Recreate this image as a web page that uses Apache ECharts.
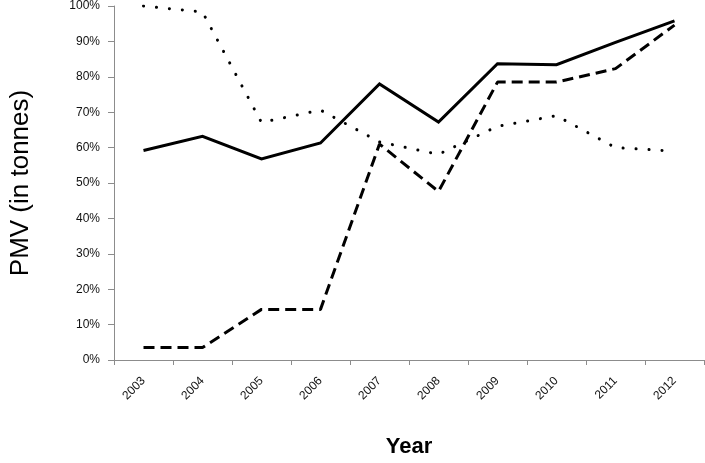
<!DOCTYPE html>
<html>
<head>
<meta charset="utf-8">
<script src="https://cdn.jsdelivr.net/npm/echarts@6/dist/echarts.min.js"></script>
<style>
html,body{margin:0;padding:0;background:#fff;}
#chart{width:705px;height:463px;}
</style>
</head>
<body>
<div id="chart"></div>
<script>
var years = ['2003','2004','2005','2006','2007','2008','2009','2010','2011','2012'];
var solidValues  = [59.2, 63.2, 56.8, 61.3, 78.0, 67.2, 83.7, 83.4, 89.7, 95.8];
var dashedValues = [3.5, 3.5, 14.3, 14.3, 61.0, 47.6, 78.5, 78.5, 82.3, 94.6];
var dottedValues = [100, 98.3, 67.1, 70.6, 61.6, 58.1, 66.0, 69.0, 60.0, 59.0];
var yTicks = [0, 10, 20, 30, 40, 50, 60, 70, 80, 90, 100];

var font = 'Liberation Sans, Arial, sans-serif';
var chart = echarts.init(document.getElementById('chart'), null, {renderer: 'canvas'});
chart.setOption({
  animation: false,
  backgroundColor: '#ffffff',
  grid: {left: 106, right: 1, top: 5.5, bottom: 97, containLabel: false},
  xAxis: {
    type: 'category',
    data: years,
    boundaryGap: true,
    name: 'Year',
    nameLocation: 'middle',
    nameGap: 76,
    nameTextStyle: {fontFamily: font, fontSize: 22, fontWeight: 'bold', color: '#000'},
    axisLine: {show: true, lineStyle: {color: '#8c8c8c', width: 1}},
    axisTick: {show: true, alignWithLabel: false, length: 5, lineStyle: {color: '#8c8c8c'}},
    axisLabel: {rotate: 45, margin: 19, fontFamily: font, fontSize: 12, color: '#111'},
    splitLine: {show: false}
  },
  yAxis: {
    type: 'value',
    min: yTicks[0],
    max: yTicks[yTicks.length - 1],
    interval: 10,
    name: 'PMV (in tonnes)',
    nameLocation: 'middle',
    nameGap: 80,
    nameTextStyle: {fontFamily: font, fontSize: 26, color: '#000'},
    axisLine: {show: true, lineStyle: {color: '#8c8c8c', width: 1}},
    axisTick: {show: true, length: 6, lineStyle: {color: '#8c8c8c'}},
    axisLabel: {formatter: '{value}%', margin: 14, fontFamily: font, fontSize: 12, color: '#111'},
    splitLine: {show: false}
  },
  series: [
    {
      type: 'line', data: solidValues, showSymbol: false, symbol: 'none',
      lineStyle: {color: '#000', width: 3, type: 'solid', join: 'miter'}
    },
    {
      type: 'line', data: dashedValues, showSymbol: false, symbol: 'none',
      lineStyle: {color: '#000', width: 3, type: [11, 6]}
    },
    {
      type: 'line', data: dottedValues, showSymbol: false, symbol: 'none',
      lineStyle: {color: '#000', width: 3, type: [0.1, 12.9], cap: 'round'}
    }
  ]
});
</script>
</body>
</html>
